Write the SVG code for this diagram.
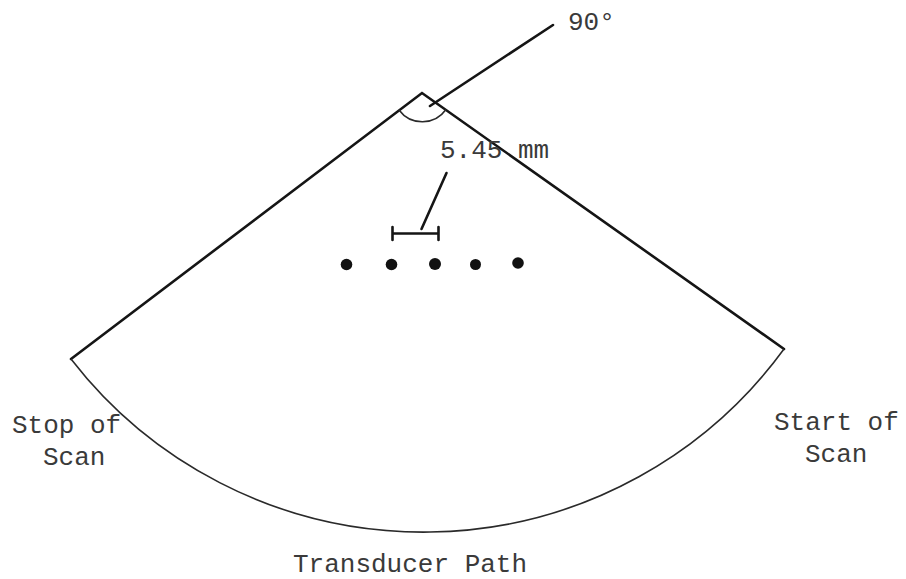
<svg xmlns="http://www.w3.org/2000/svg" width="906" height="579" viewBox="0 0 906 579">
<style>
.edge{stroke:#151515;stroke-width:2.6;fill:none;stroke-linecap:round}
.thin{stroke:#2a2a2a;stroke-width:1.6;fill:none}
.lbl{font-family:"Liberation Mono","DejaVu Sans Mono",monospace;font-size:26px;fill:#3a3a3a}
.dot{fill:#111}
</style>
<rect width="906" height="579" fill="#fff"/>
<g id="sector">
<path class="edge" d="M71 359 L422 93 L784 349"/>
<path class="thin" d="M71 359 A446 446 0 0 0 784 349"/>
<path class="thin" d="M399 110 A29 29 0 0 0 446 109.5" stroke-width="2"/>
</g>
<g id="targets">
<circle class="dot" cx="346.5" cy="264.5" r="5.8"/>
<circle class="dot" cx="391.5" cy="264.5" r="5.8"/>
<circle class="dot" cx="435" cy="264" r="6"/>
<circle class="dot" cx="475.5" cy="264.5" r="5.5"/>
<circle class="dot" cx="518" cy="263" r="5.8"/>
</g>
<g id="connectors">
<path class="edge" d="M430 106 L553 25"/>
<path class="edge" d="M392.5 233.5 H438.5 M392.5 227 V240 M438.5 227 V240"/>
<path class="edge" d="M421.5 229 L446.5 173"/>
</g>
<g id="labels">
<text class="lbl" x="568" y="30" font-size="25">90°</text>
<text class="lbl" x="440" y="158">5.45 mm</text>
<text class="lbl" x="12" y="433">Stop of</text>
<text class="lbl" x="43" y="465">Scan</text>
<text class="lbl" x="774" y="430">Start of</text>
<text class="lbl" x="805" y="462">Scan</text>
<text class="lbl" x="293" y="572">Transducer Path</text>
</g>
</svg>
